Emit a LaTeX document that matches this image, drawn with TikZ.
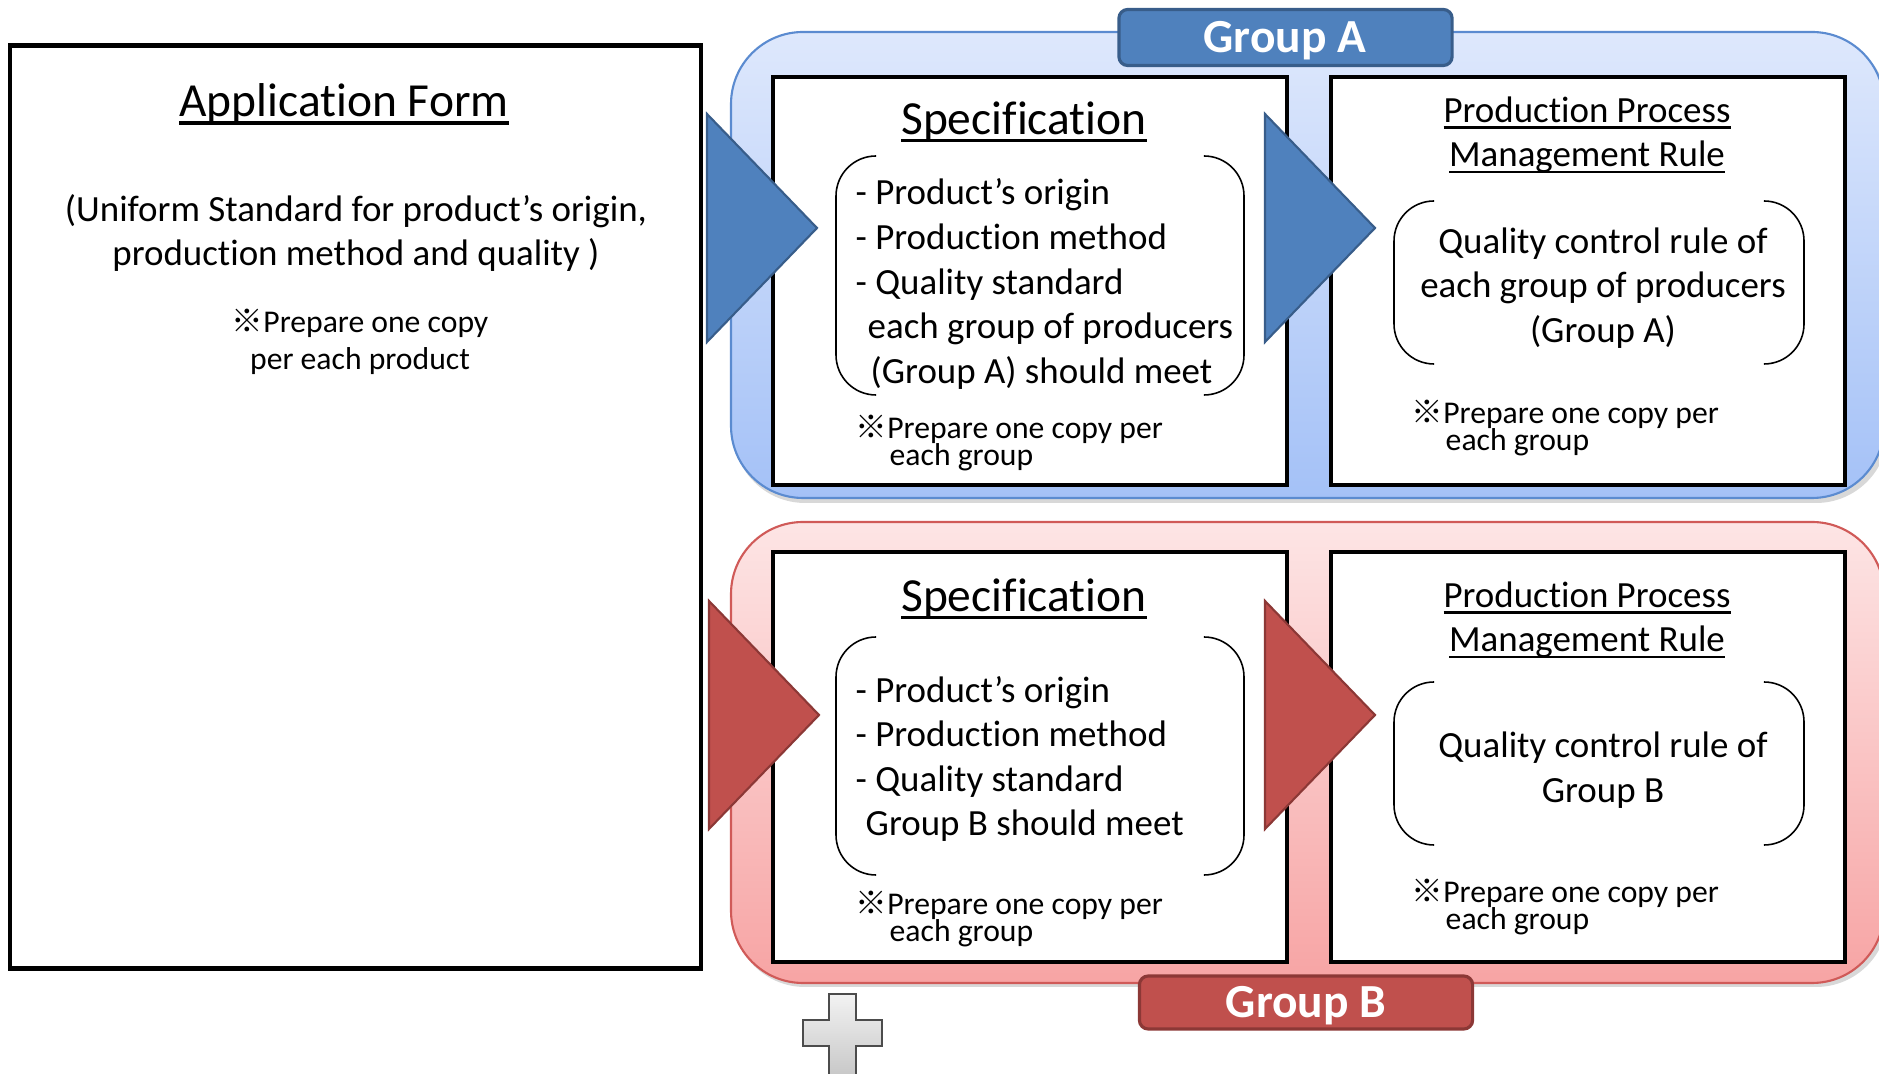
\documentclass[tikz,border=0pt]{standalone}
\usepackage{fontspec}
\setmainfont{Carlito}[Ligatures=NoCommon]
\newfontfamily\markfont{Noto Sans CJK JP}
\usepackage{tikz}
\usetikzlibrary{positioning,calc}

\definecolor{blueA}{HTML}{4F81BD}
\definecolor{blueAline}{HTML}{385D8A}
\definecolor{blueAtop}{HTML}{DEE8FC}
\definecolor{blueAbot}{HTML}{A4C1F7}
\definecolor{blueAedge}{HTML}{5B8BD0}
\definecolor{redB}{HTML}{C0504D}
\definecolor{redBline}{HTML}{8C3836}
\definecolor{redBtop}{HTML}{FDE5E5}
\definecolor{redBbot}{HTML}{F7A4A4}
\definecolor{redBedge}{HTML}{D05A58}

\newcommand{\kome}{{\markfont ※}}
\newcommand{\uln}[1]{\setbox0\hbox{#1}\leavevmode\rlap{\raisebox{-0.17em}{\rule{\wd0}{0.065em}}}\box0}
\newcommand{\flowwedge}[3]{
	% flat side at x=#2, tip 110 to the right
	\path [#1] (#2,#3-114) -- (#2+110,#3) -- (#2,#3+114) -- cycle;
}
\newcommand{\brackets}[4]{
	\draw [bracket] (#1+40,#2) -- (#1,#2) -- (#1,#4) -- (#1+40,#4);
	\draw [bracket] (#3-40,#2) -- (#3,#2) -- (#3,#4) -- (#3-40,#4);
}

\tikzset{
	sheet/.style={draw=black, line width=1.3pt, fill=white, inner sep=0pt},
	bracket/.style={draw=black, line width=0.45pt, rounded corners=0.4cm},
	titletext/.style={font=\fontsize{13.5}{16}\selectfont, inner sep=0pt},
	bodytext/.style={font=\fontsize{10.5}{12.66}\selectfont, align=center, inner sep=0pt},
	notetext/.style={font=\fontsize{9}{7.7}\selectfont, align=left, inner sep=0pt, anchor=west},
	grouptag/.style={fill=#1, draw=#1line, line width=0.9pt, rounded corners=2.5pt, inner sep=0pt},
	tagtext/.style={text=white, font=\bfseries\fontsize{13.5}{16}\selectfont, inner sep=0pt},
	bluewedge/.style={fill=blueA, draw=blueAline, line width=0.6pt},
	redwedge/.style={fill=redB, draw=redBline, line width=0.6pt},
}

\begin{document}
\begin{tikzpicture}[x=0.01cm, y=-0.01cm]
	\useasboundingbox (0,0) rectangle (1879,1074);

	% group backgrounds
	\fill [black!30, opacity=0.5, rounded corners=0.72cm] (733,36) rectangle (1888,503);
	\shadedraw [top color=blueAtop, bottom color=blueAbot, draw=blueAedge, line width=0.6pt, rounded corners=0.72cm] (731,32) rectangle (1884,498);
	\fill [black!30, opacity=0.5, rounded corners=0.72cm] (733,527) rectangle (1888,987);
	\shadedraw [top color=redBtop, bottom color=redBbot, draw=redBedge, line width=0.6pt, rounded corners=0.72cm] (731,522) rectangle (1884,983);

	% sheets
	\node [sheet, minimum width=6.91cm, minimum height=9.22cm] (appform) at (355.5,507) {};
	\node [sheet, minimum width=5.14cm, minimum height=4.08cm] (specA) at (1030,281) {};
	\node [sheet, minimum width=5.14cm, minimum height=4.08cm] (ruleA) at (1588,281) {};
	\node [sheet, minimum width=5.14cm, minimum height=4.10cm] (specB) at (1030,757) {};
	\node [sheet, minimum width=5.14cm, minimum height=4.10cm] (ruleB) at (1588,757) {};

	\brackets{836}{156}{1244}{395}
	\brackets{1394}{201}{1804}{364}
	\brackets{836}{637}{1244}{875}
	\brackets{1394}{682}{1804}{845}

	\flowwedge{bluewedge}{707}{228}
	\flowwedge{bluewedge}{1265}{228}
	\flowwedge{redwedge}{709}{715}
	\flowwedge{redwedge}{1265}{715}

	% group tags
	\node [grouptag=blueA, minimum width=3.33cm, minimum height=0.56cm] (tagA) at (1285.5,37.5) {};
	\node [tagtext] (tagAtext) at (1285,41) {Group A};
	\node [grouptag=redB, minimum width=3.33cm, minimum height=0.53cm] (tagB) at (1306,1002.5) {};
	\node [tagtext] (tagBtext) at (1306,1006) {Group B};

	% plus
	\shadedraw [top color=gray!10, bottom color=gray!45, draw=gray!60!black, line width=0.6pt]
		(829,994) -- (856,994) -- (856,1020) -- (882,1020) -- (882,1046) -- (856,1046) -- (856,1080)
		-- (829,1080) -- (829,1046) -- (803,1046) -- (803,1020) -- (829,1020) -- cycle;

	% application form
	\node [titletext] (apptitle) at (344,104) {\uln{Application Form}};
	\node [bodytext] (appbody) at (356,233) {(Uniform Standard for product’s origin,\\production method and quality )};
	\node [notetext, align=center, anchor=center, font=\fontsize{9}{10.5}\selectfont] (appnote) at (360,342) {\kome Prepare one copy\\ per each product};

	% group A
	\node [titletext] (spectitleA) at (1024,122) {\uln{Specification}};
	\node [bodytext, align=left, anchor=west] (speclistA) at (855,284) {- Product’s origin\\- Production method\\- Quality standard\\\hspace*{0.12cm}each group of producers\\\hspace*{0.15cm}(Group A) should meet};
	\node [notetext] (specnoteA) at (855,443) {\kome Prepare one copy per\\\hspace*{0.34cm}each group};
	\node [bodytext] (ruletitleA) at (1587,135) {\uln{Production Process}\\\uln{Management Rule}};
	\node [bodytext] (rulebodyA) at (1603,288) {Quality control rule of\\each group of producers\\(Group A)};
	\node [notetext] (rulenoteA) at (1411,428) {\kome Prepare one copy per\\\hspace*{0.34cm}each group};

	% group B
	\node [titletext] (spectitleB) at (1024,599) {\uln{Specification}};
	\node [bodytext, align=left, anchor=west] (speclistB) at (855,759) {- Product’s origin\\- Production method\\- Quality standard\\\hspace*{0.1cm}Group B should meet};
	\node [notetext] (specnoteB) at (855,919) {\kome Prepare one copy per\\\hspace*{0.34cm}each group};
	\node [bodytext] (ruletitleB) at (1587,620) {\uln{Production Process}\\\uln{Management Rule}};
	\node [bodytext] (rulebodyB) at (1603,770) {Quality control rule of\\Group B};
	\node [notetext] (rulenoteB) at (1411,907) {\kome Prepare one copy per\\\hspace*{0.34cm}each group};
\end{tikzpicture}
\end{document}
